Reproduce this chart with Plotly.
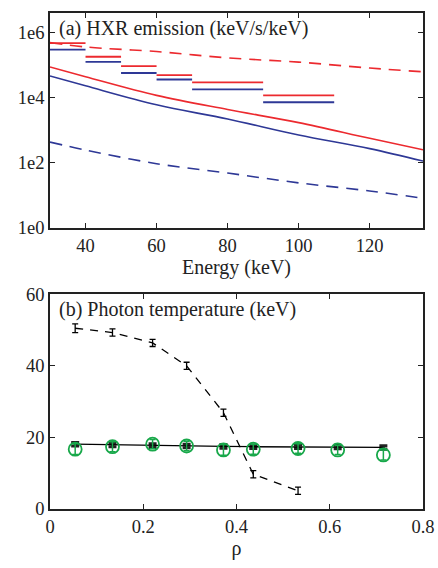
import plotly.graph_objects as go

# ---- panel (a) data ----
energy = [30, 40, 60, 80, 100, 120, 135]
red_dashed = [4.9e5, 3.6e5, 2.6e5, 1.66e5, 1.23e5, 8.1e4, 6.2e4]
red_solid = [8.7e4, 4.4e4, 1.17e4, 4.3e3, 1.7e3, 560, 250]
blue_solid = [4.6e4, 2.3e4, 6.0e3, 2.2e3, 710, 270, 112]
blue_dashed = [430, 245, 93, 48, 24, 13.5, 8.1]

bin_lo = [30, 40, 50, 60, 70, 90]
bin_hi = [40, 50, 60, 70, 90, 110]
red_bins = [4.7e5, 1.8e5, 9.3e4, 4.9e4, 2.95e4, 1.17e4]
blue_bins = [3.0e5, 1.26e5, 5.7e4, 3.6e4, 1.8e4, 7.2e3]

# ---- panel (b) data ----
rho_dash = [0.054, 0.134, 0.220, 0.293, 0.372, 0.436, 0.532]
t_dash = [50.5, 49.3, 46.4, 40.0, 26.9, 9.7, 5.1]
t_dash_err = [1.2, 1.0, 1.0, 1.0, 1.0, 1.0, 1.0]

rho_all = [0.054, 0.134, 0.220, 0.293, 0.372, 0.436, 0.532, 0.617, 0.715]
t_solid = [18.1, 17.9, 17.7, 17.6, 17.5, 17.4, 17.4, 17.3, 17.2]
t_solid_err = [0.5] * 9
t_green = [16.7, 17.4, 18.1, 17.6, 16.5, 16.7, 16.9, 16.5, 15.1]
t_green_err = [1.5, 1.4, 1.3, 1.3, 1.5, 1.4, 1.3, 1.3, 1.4]

RED = "#ec2a2f"
BLUE = "#2e3896"
GREEN = "#18a84a"
FONT = "'Liberation Serif', 'Times New Roman', Times, serif"
TICK_SIZE = 18.5
TITLE_SIZE = 20

fig = go.Figure()

def steps(lo, hi, vals):
    xs, ys = [], []
    for a, b, v in zip(lo, hi, vals):
        xs += [a, b, None]
        ys += [v, v, None]
    return xs, ys

fig.add_trace(go.Scatter(x=energy, y=red_dashed, mode="lines", line=dict(color=RED, width=1.6, dash="12px,8px", shape="spline"), xaxis="x", yaxis="y"))
fig.add_trace(go.Scatter(x=energy, y=red_solid, mode="lines", line=dict(color=RED, width=1.6, shape="spline"), xaxis="x", yaxis="y"))
fig.add_trace(go.Scatter(x=energy, y=blue_solid, mode="lines", line=dict(color=BLUE, width=1.6, shape="spline"), xaxis="x", yaxis="y"))
fig.add_trace(go.Scatter(x=energy, y=blue_dashed, mode="lines", line=dict(color=BLUE, width=1.6, dash="12px,8px", shape="spline"), xaxis="x", yaxis="y"))
xs, ys = steps(bin_lo, bin_hi, red_bins)
fig.add_trace(go.Scatter(x=xs, y=ys, mode="lines", line=dict(color=RED, width=1.8), xaxis="x", yaxis="y"))
xs, ys = steps(bin_lo, bin_hi, blue_bins)
fig.add_trace(go.Scatter(x=xs, y=ys, mode="lines", line=dict(color=BLUE, width=1.8), xaxis="x", yaxis="y"))

fig.add_trace(go.Scatter(x=rho_dash, y=t_dash, mode="lines", line=dict(color="black", width=1.3, dash="8px,7px"),
                         error_y=dict(type="data", array=t_dash_err, color="black", thickness=1.3, width=3),
                         xaxis="x2", yaxis="y2"))
fig.add_trace(go.Scatter(x=rho_all, y=t_solid, mode="lines", line=dict(color="black", width=1.3),
                         error_y=dict(type="data", array=t_solid_err, color="#222", thickness=3, width=4),
                         xaxis="x2", yaxis="y2"))
fig.add_trace(go.Scatter(x=rho_all, y=t_green, mode="markers",
                         marker=dict(symbol="circle-open", size=13, color=GREEN, line=dict(width=1.8, color=GREEN)),
                         error_y=dict(type="data", array=t_green_err, color=GREEN, thickness=1.5, width=3),
                         xaxis="x2", yaxis="y2"))

axis_common = dict(showline=True, linecolor="#222", linewidth=1.6, mirror="ticks", ticks="inside",
                   ticklen=5, tickcolor="#222", tickwidth=1.2, showgrid=False, zeroline=False,
                   ticklabeloverflow="allow",
                   tickfont=dict(family=FONT, size=TICK_SIZE, color="#222"))

fig.update_layout(
    width=438, height=568,
    margin=dict(l=50, r=15, t=3, b=59),
    paper_bgcolor="white", plot_bgcolor="white",
    showlegend=False,
    font=dict(family=FONT, size=TICK_SIZE, color="#222"),
    xaxis=dict(domain=[0, 1], range=[30, 135], tickvals=[40, 60, 80, 100, 120], anchor="y",
               title=dict(text="Energy (keV)", font=dict(family=FONT, size=TITLE_SIZE), standoff=0), **axis_common),
    yaxis=dict(domain=[0.567, 1], type="log", range=[0, 6.6], tickvals=[1, 100, 1e4, 1e6],
               ticktext=["1e0", "1e2", "1e4", "1e6"], anchor="x", **axis_common),
    xaxis2=dict(domain=[0, 1], range=[0, 0.8], tickvals=[0, 0.2, 0.4, 0.6, 0.8], anchor="y2",
                title=dict(text="ρ", font=dict(family=FONT, size=TITLE_SIZE), standoff=5), **axis_common),
    yaxis2=dict(domain=[0, 0.433], range=[0, 60], tickvals=[0, 20, 40, 60], anchor="x2", **axis_common),
    annotations=[
        dict(text="(a) HXR emission (keV/s/keV)", xref="paper", yref="paper", x=0.02, y=1.0,
             xanchor="left", yanchor="top", showarrow=False, font=dict(family=FONT, size=TITLE_SIZE, color="#222"), yshift=-2),
        dict(text="(b) Photon temperature (keV)", xref="paper", yref="paper", x=0.02, y=0.433,
             xanchor="left", yanchor="top", showarrow=False, font=dict(family=FONT, size=TITLE_SIZE, color="#222"), yshift=-2),
    ],
)

fig.write_html("out.html", config={"displayModeBar": False},
               post_script="document.body.style.margin='0';")
